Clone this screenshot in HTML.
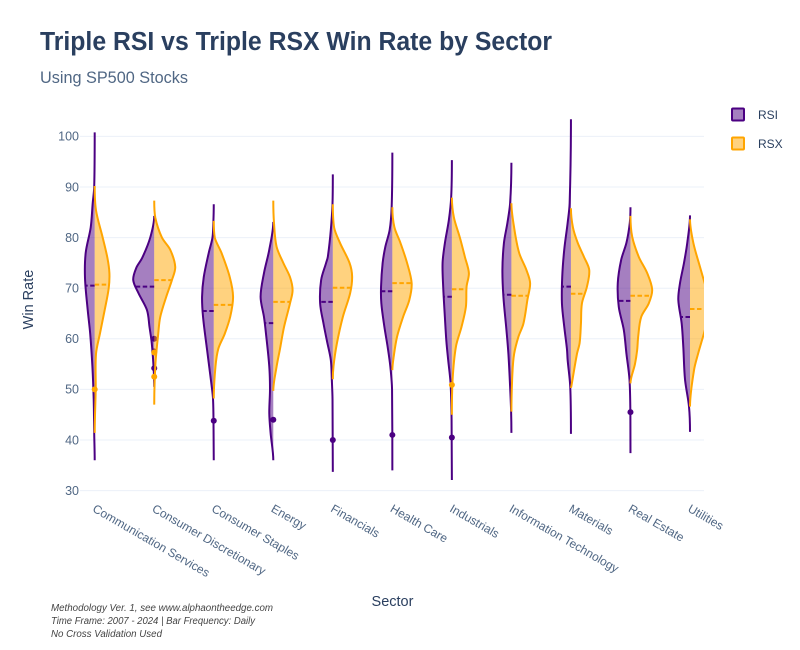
<!DOCTYPE html>
<html lang="en">
<head>
<meta charset="utf-8">
<title>Triple RSI vs Triple RSX Win Rate by Sector</title>
<style>
html,body{margin:0;padding:0;background:#fff;}
svg{display:block;font-family:"Liberation Sans",sans-serif;}
</style>
</head>
<body>
<svg id="chart" xmlns="http://www.w3.org/2000/svg" width="800" height="650" viewBox="0 0 800 650">
  <defs><clipPath id="plot-clip"><rect x="80" y="100" width="624" height="400"/></clipPath></defs>
  <rect width="800" height="650" fill="#fff"/>
  <text x="40" y="50" font-size="25.5" font-weight="700" fill="#2a3f5f" textLength="512" lengthAdjust="spacingAndGlyphs">Triple RSI vs Triple RSX Win Rate by Sector</text>
  <text x="40" y="83" font-size="17" fill="#506784" textLength="148" lengthAdjust="spacingAndGlyphs">Using SP500 Stocks</text>
  <g id="grid"></g>
  <g id="y-ticks"></g>
  <g id="x-ticks"></g>
  <g id="marks" clip-path="url(#plot-clip)"></g>
  <text transform="translate(33,299.5) rotate(-90)" text-anchor="middle" font-size="14.5" fill="#2a3f5f">Win Rate</text>
  <text x="392.5" y="606" text-anchor="middle" font-size="14.5" fill="#2a3f5f">Sector</text>
  <g>
    <rect x="732" y="108.5" width="12" height="12" rx="1" fill="rgba(75,0,130,.5)" stroke="#4b0082" stroke-width="2"/>
    <text x="758" y="119" font-size="12" fill="#2a3f5f">RSI</text>
  </g>
  <g>
    <rect x="732" y="137.5" width="12" height="12" rx="1" fill="rgba(255,165,0,.5)" stroke="#ffa500" stroke-width="2"/>
    <text x="758" y="148" font-size="12" fill="#2a3f5f">RSX</text>
  </g>
  <g font-size="10" font-style="italic" fill="#444">
    <text x="51" y="611" textLength="222" lengthAdjust="spacingAndGlyphs">Methodology Ver. 1, see www.alphaontheedge.com</text>
    <text x="51" y="624" textLength="204" lengthAdjust="spacingAndGlyphs">Time Frame: 2007 - 2024 | Bar Frequency: Daily</text>
    <text x="51" y="637" textLength="111" lengthAdjust="spacingAndGlyphs">No Cross Validation Used</text>
  </g>
</svg>
<script>
const sectors = ["Communication Services","Consumer Discretionary","Consumer Staples","Energy","Financials","Health Care","Industrials","Information Technology","Materials","Real Estate","Utilities"];
const yTicks = [30,40,50,60,70,80,90,100];
const rsiMeans = [70.5,70.3,65.5,63.1,67.3,69.4,68.3,68.7,70.3,67.5,64.3];
const rsxMeans = [70.7,71.6,66.7,67.3,70.1,71,69.8,68.5,68.9,68.5,65.9];
const rsiOutliers = [[],[60,57.5,54.2],[43.8],[44],[40],[41],[40.5],[],[],[45.5],[]];
const rsxOutliers = [[50],[57.3,52.5],[],[],[],[],[50.9],[],[],[],[]];
/* each profile: [win rate, density] pairs */
const rsiProfiles = [
 [[100.8,0],[90,.005],[86.8,.02],[82,.04],[77,.09],[72,.097],[65.7,.07],[61,.045],[54.5,.023],[48,.01],[41.4,.005],[36,0]],
 [[84.3,0],[80,.04],[76,.12],[74,.18],[71.6,.21],[69,.157],[65.7,.073],[62.3,.047],[59.2,.025],[54.5,.007],[50.5,0]],
 [[86.6,0],[83,.004],[80,.013],[77,.05],[72.2,.1],[68.3,.117],[64.3,.107],[58,.068],[51,.023],[48,.007],[42,.002],[36,0]],
 [[83.1,0],[77.6,.04],[73,.093],[68.3,.127],[64.3,.093],[61,.073],[54.5,.04],[50,.033],[45.3,.04],[41.4,.027],[36,0]],
 [[92.5,0],[86.8,.003],[81.5,.02],[76.2,.05],[75,.067],[71.6,.117],[67,.127],[63,.093],[59.5,.058],[55.8,.02],[51.9,.01],[48,.003],[33.7,0]],
 [[96.8,0],[86,.007],[81.5,.027],[78.2,.07],[75,.097],[70.3,.113],[67,.11],[62.4,.08],[58.4,.047],[54.5,.02],[50,.003],[34,0]],
 [[95.3,0],[88,.007],[83.5,.03],[78.9,.07],[75,.093],[70.3,.087],[64.3,.07],[59.5,.055],[55.8,.037],[51.2,.013],[43.9,.003],[32.1,0]],
 [[94.8,0],[86.8,.013],[82.9,.04],[78.9,.075],[73.6,.09],[68.3,.08],[61.8,.05],[57,.03],[50.5,.013],[45.6,.003],[41.4,0]],
 [[103.4,0],[86.8,.013],[82.9,.033],[77.6,.067],[72.3,.087],[67,.09],[62.4,.067],[58,.04],[55.8,.033],[50.5,.007],[41.2,0]],
 [[86,0],[82.9,.007],[79,.04],[75.6,.093],[71,.127],[66.3,.117],[61.8,.067],[57,.04],[52,.01],[45.4,.001],[37.4,0]],
 [[84.4,0],[79,.027],[75,.06],[71,.1],[67.7,.117],[63,.083],[58.4,.067],[52,.05],[46.6,.01],[41.6,0]]
];
const rsxProfiles = [
 [[90.2,0],[85.4,.013],[80,.08],[76,.127],[73,.147],[70,.14],[65.7,.1],[61,.052],[57,.013],[50,.01],[41.4,0]],
 [[87.3,0],[84,.01],[80,.077],[77.6,.16],[74.2,.21],[71.6,.177],[68.3,.12],[64.3,.06],[61,.04],[55,.012],[47,0]],
 [[83.3,0],[80,.01],[77,.077],[72.2,.16],[68.3,.193],[64.4,.165],[61,.11],[58,.045],[54.5,.017],[48.2,0]],
 [[87.3,0],[82.9,.007],[78.2,.033],[75,.1],[72.2,.167],[69.6,.193],[67,.167],[62.3,.107],[58,.067],[54.5,.033],[49.7,0]],
 [[86.6,0],[82,.013],[78.9,.073],[75,.167],[72.3,.193],[69,.173],[64.3,.1],[59,.04],[54.6,.007],[52,0]],
 [[86,0],[82.1,.02],[79,.08],[75,.147],[71,.193],[67.7,.17],[64.3,.107],[60.4,.047],[56.4,.013],[53.8,0]],
 [[87.9,0],[84,.02],[80,.08],[76.2,.13],[73,.17],[70.3,.147],[66.3,.14],[62.4,.097],[58.4,.04],[51.9,.007],[45,0]],
 [[86.8,0],[82,.027],[77,.077],[73.6,.15],[71,.187],[67.7,.16],[63,.12],[60.4,.07],[57,.027],[53.2,.01],[45.6,0]],
 [[85.8,0],[82,.02],[79,.067],[76.2,.13],[73.6,.183],[70.3,.16],[67,.11],[63,.1],[59.2,.087],[57,.06],[50.5,.003],[50.3,0]],
 [[84.3,0],[80.2,.017],[76.2,.083],[73,.167],[69.7,.217],[67,.183],[64.3,.107],[60.4,.077],[57.8,.067],[55,.045],[51.2,0]],
 [[83.6,0],[79,.033],[74.2,.1],[69.7,.165],[66,.21],[61.8,.15],[60.4,.13],[57,.08],[53.8,.04],[46.6,0]]
];

const NS = 'http://www.w3.org/2000/svg';
function yScale(v){ return 136.4 + (100 - v) * 5.06; }
function xScale(i){ return 94.7 + i * 59.53; }
function widthScale(d){ return d * 100; }
function make(parent, tag, attrs){
  const el = document.createElementNS(NS, tag);
  for (const k in attrs) el.setAttribute(k, attrs[k]);
  parent.appendChild(el);
  return el;
}
function slug(s){ return s.toLowerCase().replace(/\s+/g,'-'); }
function outline(profile, cx, dir){
  const pts = profile.map(function(p){ return [cx + dir * widthScale(p[1]), yScale(p[0])]; });
  const n = pts.length;
  const slopes = pts.map(function(p, i){
    if (i === 0 || i === n - 1) return 0;
    return (pts[i+1][0] - pts[i-1][0]) / (pts[i+1][1] - pts[i-1][1]);
  });
  let d = 'M' + pts[0][0].toFixed(2) + ' ' + pts[0][1].toFixed(2);
  for (let i = 0; i < n - 1; i++){
    const a = pts[i], b = pts[i+1], h = (b[1] - a[1]) / 3;
    let c1x = a[0] + slopes[i] * h, c2x = b[0] - slopes[i+1] * h;
    if (dir*(c1x-cx) < 0) c1x = cx;
    if (dir*(c2x-cx) < 0) c2x = cx;
    d += 'C' + c1x.toFixed(2) + ' ' + (a[1]+h).toFixed(2) + ' ' + c2x.toFixed(2) + ' ' + (b[1]-h).toFixed(2) + ' ' + b[0].toFixed(2) + ' ' + b[1].toFixed(2);
  }
  return d;
}
function densityAt(profile, v){
  for (let i = 0; i < profile.length - 1; i++){
    const a = profile[i], b = profile[i+1];
    if (v <= a[0] && v >= b[0]) return a[1] + (b[1]-a[1]) * (a[0]-v) / (a[0]-b[0]);
  }
  return 0;
}

const grid = document.getElementById('grid');
const yTickGroup = document.getElementById('y-ticks');
yTicks.forEach(function(t){
  const line = make(grid, 'line', {x1:80, x2:704, y1:yScale(t), y2:yScale(t), stroke:'#ebf0f8', 'stroke-width':1});
  
  
  const label = make(yTickGroup, 'text', {x:79, y:yScale(t)+4.3, 'text-anchor':'end', 'font-size':12.5, fill:'#506784'});
  label.textContent = t;
  
  
});

const xTickGroup = document.getElementById('x-ticks');
sectors.forEach(function(s, i){
  const ax = xScale(i) - 3, ay = 511;
  const label = make(xTickGroup, 'text', {transform:'translate(' + ax + ',' + ay + ') rotate(30)', 'font-size':12, fill:'#506784'});
  label.textContent = s;
  
  
});

const marks = document.getElementById('marks');
function drawSeries(name, profiles, means, outliers, dir, color, fill){
  profiles.forEach(function(profile, i){
    const cx = xScale(i);
    const g = make(marks, 'g', {});
    
    
    const d = outline(profile, cx, dir);
    const area = make(g, 'path', {d:d + 'Z', fill:fill, stroke:'none'});
    
    
    const edge = make(g, 'path', {d:d, fill:'none', stroke:color, 'stroke-width':2, 'stroke-linejoin':'round'});
    
    
    const my = yScale(means[i]);
    const mean = make(g, 'line', {x1:cx, x2:cx + dir*widthScale(densityAt(profile, means[i])), y1:my, y2:my, stroke:color, 'stroke-width':2, 'stroke-dasharray':'4.5,2.5'});
    
    
    outliers[i].forEach(function(v){
      const dot = make(g, 'circle', {cx:cx, cy:yScale(v), r:3, fill:color});
      
      
    });
  });
}
drawSeries('rsi', rsiProfiles, rsiMeans, rsiOutliers, -1, '#4b0082', 'rgba(75,0,130,.5)');
drawSeries('rsx', rsxProfiles, rsxMeans, rsxOutliers, 1, '#ffa500', 'rgba(255,165,0,.5)');
</script>
</body>
</html>
